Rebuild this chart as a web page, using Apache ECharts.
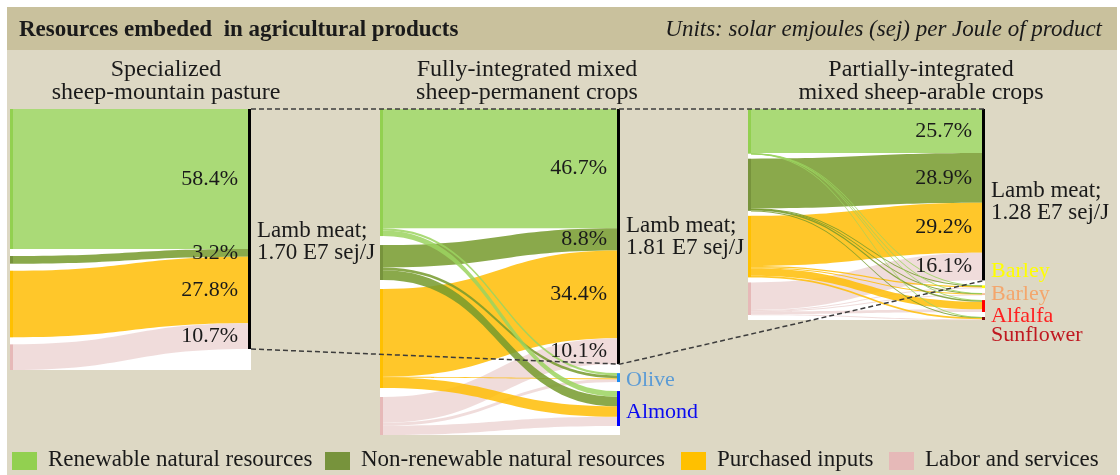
<!DOCTYPE html>
<html><head><meta charset="utf-8">
<script src="https://cdn.jsdelivr.net/npm/echarts@6/dist/echarts.min.js"></script>
<style>html,body{margin:0;padding:0;background:#fff;}#c{width:1120px;height:475px;}</style>
</head><body><div id="c"></div>
<script>
// ---------------- DATA ----------------
const categories = ['Renewable natural resources','Non-renewable natural resources','Purchased inputs','Labor and services'];
const systemTitles = ['Specialized\nsheep-mountain pasture','Fully-integrated mixed\nsheep-permanent crops','Partially-integrated\nmixed sheep-arable crops'];
const lambEmergy = ['1.70','1.81','1.28']; // E7 sej/J
// share of each resource in lamb meat (%)
const lambShares1 = [58.4, 3.2, 27.8, 10.7];
const lambShares2 = [46.7, 8.8, 34.4, 10.1];
const lambShares3 = [25.7, 28.9, 29.2, 16.1];
// crop flows (same units: % of lamb meat emergy), order = categories
const crops2 = ['Olive','Almond'];
const olive2  = [0.9, 1.1, 0.3, 1.2];
const almond2 = [2.2, 3.8, 4.1, 3.6];
const crops3 = ['Barley','Barley','Alfalfa','Sunflower'];
const barleyA3   = [0.1, 0.3, 0.8, 0.4];
const barleyB3   = [0.05, 0.2, 0.5, 0.4];
const alfalfa3   = [0.15, 0.8, 4.4, 1.6];
const sunflower3 = [0.05, 0.2, 1.0, 0.5];

// ---------------- STYLE / LAYOUT ----------------
const SERIF = '"Liberation Serif","Times New Roman",serif';
const TXT = '#1a1a1a';
const nodeColors = ['#92d050','#77933c','#ffc000','#e6b9b8'];
const flowColors = ['#9bd35f','#759a2c','#ffbd05','#edd6d5'];
const cropNode2 = ['#1e8cf0','#0000ff'];
const cropLabel2 = ['#5b9bd5','#0a0af0'];
const cropLabelDy2 = [3, 4];
const cropNode3 = ['#ffff00','#f8c09a','#ff0000','#7b0c0c'];
const cropLabel3 = ['#ffff00','#f4a66c','#ff2020','#c01820'];
const cropLabelDy3 = [-16, 0, 10, 17];
const panels = [
  {left:10,  top:109, width:241, height:261, gap:7, titleX:166, labelDy:13},
  {left:380, top:109, width:240, height:326, gap:9, titleX:527, labelDy:0},
  {left:748, top:109, width:237, height:211, gap:5, titleX:921, labelDy:7}
];
const legendX = [12, 325, 681, 889];

function buildSeries(idx, shares, crops, cropFlows, cNode, cLabel, cDy) {
  const p = panels[idx];
  const nodes = categories.map((c, i) => ({name: c, itemStyle: {color: nodeColors[i]}, label: {show: false}}));
  nodes.push({name: 'Lamb meat', itemStyle: {color: '#000'},
    label: {show: true, formatter: 'Lamb meat;\n' + lambEmergy[idx] + ' E7 sej/J', offset: [0, p.labelDy], lineHeight: 22, fontSize: 23}});
  crops.forEach((c, j) => nodes.push({name: 'crop' + j, itemStyle: {color: cNode[j]},
    label: {show: true, formatter: c, color: cLabel[j], offset: [0, cDy[j]]}}));
  const links = [];
  categories.forEach((c, i) => links.push({source: c, target: 'Lamb meat', value: shares[i], lineStyle: {color: flowColors[i]}}));
  [3, 2, 1, 0].forEach(i => cropFlows.forEach((arr, j) =>
    links.push({source: categories[i], target: 'crop' + j, value: arr[i], lineStyle: {color: flowColors[i]}})));
  return {
    type: 'sankey', left: p.left, top: p.top, width: p.width, height: p.height,
    nodeWidth: 3, nodeGap: p.gap, layoutIterations: 0, draggable: false, silent: true,
    emphasis: {disabled: true},
    label: {position: 'right', distance: 6, fontFamily: SERIF, fontSize: 22, color: TXT},
    lineStyle: {curveness: 0.5, opacity: 0.85},
    itemStyle: {borderWidth: 0},
    data: nodes, links: links
  };
}

const series = [
  buildSeries(0, lambShares1, [], [], [], [], []),
  buildSeries(1, lambShares2, crops2, [olive2, almond2], cropNode2, cropLabel2, cropLabelDy2),
  buildSeries(2, lambShares3, crops3, [barleyA3, barleyB3, alfalfa3, sunflower3], cropNode3, cropLabel3, cropLabelDy3)
];
const allShares = [lambShares1, lambShares2, lambShares3];

const g = [];
g.push({id:'bar', type:'rect', z:0, shape:{x:7, y:7, width:1110, height:43}, style:{fill:'#c9c19d'}});
g.push({id:'body', type:'rect', z:0, shape:{x:7, y:50, width:1110, height:425}, style:{fill:'#ddd8c4'}});
g.push({id:'title', type:'text', z:1, style:{text:'Resources embeded  in agricultural products', x:19, y:30,
  fontFamily:SERIF, fontSize:23, fontWeight:'bold', fill:TXT, verticalAlign:'middle'}});
g.push({id:'units', type:'text', z:1, style:{text:'Units: solar emjoules (sej) per Joule of product', x:1102, y:30,
  fontFamily:SERIF, fontSize:23, fontStyle:'italic', fill:TXT, align:'right', verticalAlign:'middle'}});
panels.forEach((p, i) => {
  g.push({id:'white' + i, type:'rect', z:1, shape:{x:p.left, y:p.top, width:p.width, height:p.height}, style:{fill:'#ffffff'}});
  g.push({id:'ptitle' + i, type:'text', z:1, style:{text:systemTitles[i], x:p.titleX, y:81, lineHeight:23,
    fontFamily:SERIF, fontSize:24, fill:TXT, align:'center', verticalAlign:'middle'}});
});
categories.forEach((c, i) => {
  g.push({id:'lr' + i, type:'rect', z:1, shape:{x:legendX[i], y:452, width:25, height:18}, style:{fill:nodeColors[i]}});
  g.push({id:'lt' + i, type:'text', z:1, style:{text:c, x:legendX[i] + 36, y:460,
    fontFamily:SERIF, fontSize:23, fill:TXT, verticalAlign:'middle'}});
});

const chart = echarts.init(document.getElementById('c'));
chart.setOption({animation:false, backgroundColor:'#ffffff', graphic:{elements:g}, series:series});

// overlay: percentage labels and dashed connectors from the library's sankey layout
const overlay = [];
try {
  const pts = [];
  series.forEach((s, i) => {
    const sm = chart.getModel().getSeriesByIndex(i);
    const graph = sm.getGraph();
    const li = sm.layoutInfo || {x: s.left, y: s.top};
    let lamb = null;
    graph.eachNode(n => { if (n.id === 'Lamb meat') lamb = n; });
    const L = lamb.getLayout();
    lamb.inEdges.forEach(e => {
      const el = e.getLayout();
      const k = categories.indexOf(e.node1.id);
      overlay.push({id:'pct' + i + '_' + k, type:'text', z:100, style:{text: allShares[i][k].toFixed(1) + '%',
        x: li.x + L.x - 10, y: li.y + L.y + el.ty + el.dy / 2,
        fontFamily:SERIF, fontSize:22, fill:TXT, align:'right', verticalAlign:'middle'}});
    });
    pts.push({x: li.x + L.x + L.dx, top: li.y + L.y, bottom: li.y + L.y + L.dy});
  });
  const dash = {stroke:'#3c3c3c', lineWidth:1.5, lineDash:[5,3], fill:null};
  overlay.push({id:'dtop', type:'polyline', z:100, shape:{points:[[pts[0].x, pts[0].top], [pts[2].x, pts[2].top]]}, style:dash});
  overlay.push({id:'dbot', type:'polyline', z:100, shape:{points:pts.map(p => [p.x, p.bottom])}, style:dash});
} catch (err) { console.error(err); }
chart.setOption({graphic:{elements:g.concat(overlay)}});
</script></body></html>
